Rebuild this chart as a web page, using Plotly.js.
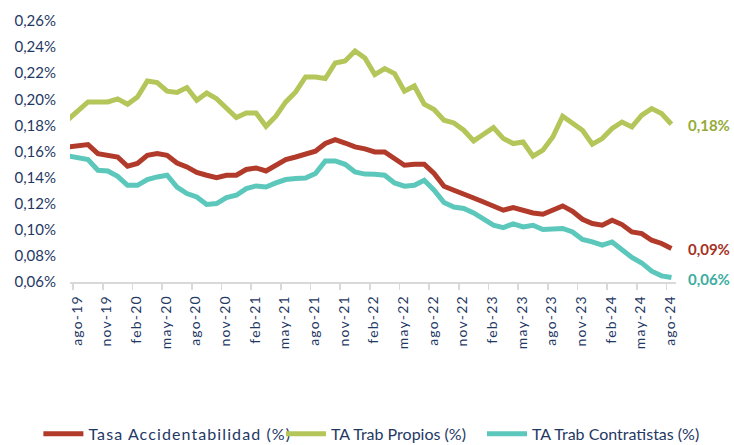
<!DOCTYPE html>
<html>
<head>
<meta charset="utf-8">
<script src="https://cdn.plot.ly/plotly-3.0.1.min.js"></script>
<style>
html, body { margin: 0; padding: 0; background: #ffffff; }
#chart { width: 734px; height: 445px; }
.xtick text { letter-spacing: 1.2px; }
.legendtext { letter-spacing: 1.1px; }
.legend2 .legendtext, .legend3 .legendtext { letter-spacing: 1.6px; }
</style>
</head>
<body>
<div id="chart"></div>
<script>
// Months (jul-19 .. ago-24)
const months = [
  'jul-19','ago-19','sep-19','oct-19','nov-19','dic-19',
  'ene-20','feb-20','mar-20','abr-20','may-20','jun-20','jul-20','ago-20','sep-20','oct-20','nov-20','dic-20',
  'ene-21','feb-21','mar-21','abr-21','may-21','jun-21','jul-21','ago-21','sep-21','oct-21','nov-21','dic-21',
  'ene-22','feb-22','mar-22','abr-22','may-22','jun-22','jul-22','ago-22','sep-22','oct-22','nov-22','dic-22',
  'ene-23','feb-23','mar-23','abr-23','may-23','jun-23','jul-23','ago-23','sep-23','oct-23','nov-23','dic-23',
  'ene-24','feb-24','mar-24','abr-24','may-24','jun-24','jul-24','ago-24'
];

// Series (values in %)
const tasaAccidentabilidad = [
  0.1635, 0.1640, 0.1653, 0.1584, 0.1571, 0.1558, 0.1487, 0.1508, 0.1571, 0.1584, 0.1571, 0.1512, 0.1482, 0.1439, 0.1418, 0.1400,
  0.1418, 0.1418, 0.1462, 0.1474, 0.1451, 0.1495, 0.1538, 0.1558, 0.1579, 0.1602, 0.1661, 0.1691, 0.1665, 0.1635, 0.1620,
  0.1597, 0.1597, 0.1546, 0.1495, 0.1502, 0.1502, 0.1431, 0.1334, 0.1303, 0.1278, 0.1244, 0.1213, 0.1183, 0.1150, 0.1171,
  0.1145, 0.1129, 0.1119, 0.1150, 0.1183, 0.1142, 0.1081, 0.1048, 0.1035, 0.1073, 0.1040, 0.0984, 0.0971, 0.0920, 0.0895, 0.0857
];
const taTrabPropios = [
  0.1845, 0.1911, 0.1980, 0.1980, 0.1980, 0.2003, 0.1962, 0.2018, 0.2140, 0.2128, 0.2062, 0.2052, 0.2090, 0.1993, 0.2048, 0.2005,
  0.1929, 0.1860, 0.1895, 0.1895, 0.1793, 0.1870, 0.1980, 0.2056, 0.2171, 0.2171, 0.2159, 0.2278, 0.2294, 0.2370, 0.2316,
  0.2189, 0.2235, 0.2197, 0.2062, 0.2102, 0.1962, 0.1921, 0.1840, 0.1819, 0.1763, 0.1681, 0.1732, 0.1783, 0.1699, 0.1661,
  0.1673, 0.1564, 0.1610, 0.1711, 0.1870, 0.1814, 0.1763, 0.1656, 0.1699, 0.1776, 0.1826, 0.1788, 0.1878, 0.1929, 0.1891, 0.1809
];
const taTrabContratistas = [
  0.1566, 0.1548, 0.1538, 0.1456, 0.1451, 0.1410, 0.1341, 0.1341, 0.1385, 0.1405, 0.1418, 0.1328, 0.1278, 0.1252, 0.1194, 0.1201,
  0.1247, 0.1265, 0.1316, 0.1336, 0.1328, 0.1359, 0.1385, 0.1393, 0.1397, 0.1431, 0.1528, 0.1528, 0.1502, 0.1443, 0.1427,
  0.1426, 0.1418, 0.1359, 0.1334, 0.1341, 0.1380, 0.1303, 0.1209, 0.1175, 0.1163, 0.1129, 0.1086, 0.1035, 0.1017, 0.1046,
  0.1022, 0.1035, 0.1002, 0.1010, 0.1010, 0.0984, 0.0926, 0.0907, 0.0882, 0.0907, 0.0849, 0.0788, 0.0746, 0.0683, 0.0647, 0.0634
];

const seriesNames = ['Tasa Accidentabilidad (%)', 'TA Trab Propios (%)', 'TA Trab Contratistas (%)'];
const lineColors = ['#B23A2B', '#B4C65A', '#5CC7BB'];
const labelColors = ['#A5321F', '#94AB38', '#3CAD9F'];
const yTicks = [0.06, 0.08, 0.10, 0.12, 0.14, 0.16, 0.18, 0.20, 0.22, 0.24, 0.26];

const FONT = 'Lato, "Open Sans", sans-serif';
const NAVY = '#1F3864';

const fmtPct = v => v.toFixed(2).replace('.', ',') + '%';

const idx = months.map((m, i) => i);
// Labelled months: every third month starting at ago-19
const labelIdx = idx.filter(i => (i - 1) % 3 === 0);
const tickVals = labelIdx.map(i => i - 0.5);
const tickText = labelIdx.map(i => months[i]);

const allSeries = [tasaAccidentabilidad, taTrabPropios, taTrabContratistas];
const legendIds = ['legend', 'legend2', 'legend3'];

const traces = allSeries.map((s, j) => ({
  type: 'scatter',
  mode: 'lines',
  x: idx,
  y: s,
  name: seriesNames[j],
  legend: legendIds[j],
  line: { color: lineColors[j], width: 5, shape: 'linear' },
  hoverinfo: 'skip'
}));

const last = months.length - 1;
const annotations = allSeries.map((s, j) => ({
  x: last,
  y: s[last],
  xref: 'x',
  yref: 'y',
  text: fmtPct(s[last]),
  showarrow: false,
  xanchor: 'left',
  yanchor: 'middle',
  xshift: 15,
  yshift: -1,
  font: { family: FONT, size: 15, color: labelColors[j], weight: 'bold' }
}));

function legendBox(xc) {
  return {
    orientation: 'h',
    xref: 'container',
    yref: 'container',
    x: xc,
    xanchor: 'left',
    y: 0.025,
    yanchor: 'middle',
    bgcolor: 'rgba(0,0,0,0)',
    borderwidth: 0,
    itemwidth: 40,
    font: { family: FONT, size: 16, color: NAVY }
  };
}

const layout = {
  width: 734,
  height: 445,
  margin: { l: 70, r: 58, t: 21, b: 163, pad: 0 },
  paper_bgcolor: '#ffffff',
  plot_bgcolor: '#ffffff',
  separators: ',.',
  showlegend: true,
  legend: legendBox(0.0523),
  legend2: legendBox(0.3828),
  legend3: legendBox(0.6567),
  xaxis: {
    range: [0.18, 61.46],
    showgrid: false,
    zeroline: false,
    showline: true,
    linecolor: '#D9D9D9',
    linewidth: 1.5,
    ticks: 'outside',
    ticklen: 6,
    tickwidth: 1.5,
    tickcolor: '#D9D9D9',
    tickmode: 'array',
    tickvals: tickVals,
    ticktext: tickText,
    tickangle: -90,
    ticklabelshift: 4,
    tickfont: { family: FONT, size: 14, color: NAVY }
  },
  yaxis: {
    range: [0.06, 0.26],
    showgrid: false,
    zeroline: false,
    showline: false,
    ticks: '',
    tickmode: 'array',
    tickvals: yTicks,
    ticktext: yTicks.map(fmtPct),
    ticklabelstandoff: 13,
    tickfont: { family: FONT, size: 15, color: NAVY }
  },
  annotations: annotations
};

Plotly.newPlot('chart', traces, layout, { displayModeBar: false, staticPlot: true });
</script>
</body>
</html>
